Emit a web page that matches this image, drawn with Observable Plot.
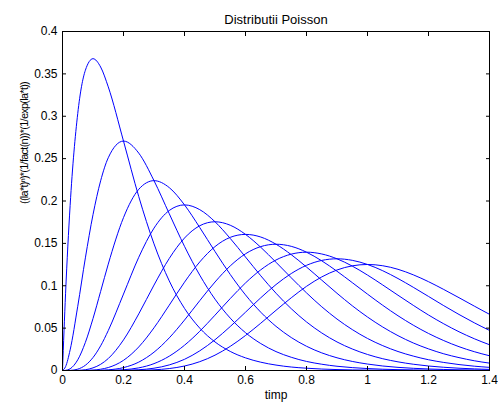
<!DOCTYPE html>
<html>
<head>
<meta charset="utf-8">
<script src="https://cdn.jsdelivr.net/npm/d3@7"></script>
<script src="https://cdn.jsdelivr.net/npm/@observablehq/plot@0.6"></script>
<style>
  html, body { margin: 0; padding: 0; background: #fff; }
  svg { display: block; }
</style>
</head>
<body>
<div id="chart"></div>
<script>
const title = "Distributii Poisson";
const xLabel = "timp";
const yLabel = "((la*t)\u207F)*(1/fact(n))*(1/exp(la*t))";

const xTicks = [0, 0.2, 0.4, 0.6, 0.8, 1, 1.2, 1.4];
const yTicks = [0, 0.05, 0.1, 0.15, 0.2, 0.25, 0.3, 0.35, 0.4];

const timp = [0, 0.01, 0.025, 0.05, 0.075, 0.1, 0.125, 0.15, 0.2, 0.25, 0.3, 0.35, 0.4, 0.45, 0.5, 0.55, 0.6, 0.65, 0.7, 0.75, 0.8, 0.85, 0.9, 0.95, 1.0, 1.05, 1.1, 1.15, 1.2, 1.25, 1.3, 1.35, 1.4];

const n1 = [0, 0.0905, 0.1947, 0.3033, 0.3543, 0.3679, 0.3581, 0.3347, 0.2707, 0.2052, 0.1494, 0.1057, 0.0733, 0.0500, 0.0337, 0.0225, 0.0149, 0.0098, 0.0064, 0.0041, 0.0027, 0.0017, 0.0011, 0.0007, 0.0005, 0.0003, 0.0002, 0.0001, 0.0001, 0, 0, 0, 0];
const n2 = [0, 0.0045, 0.0243, 0.0758, 0.1329, 0.1839, 0.2238, 0.2510, 0.2707, 0.2565, 0.2240, 0.1850, 0.1465, 0.1125, 0.0842, 0.0618, 0.0446, 0.0318, 0.0223, 0.0156, 0.0107, 0.0074, 0.0050, 0.0034, 0.0023, 0.0015, 0.0010, 0.0007, 0.0004, 0.0003, 0.0002, 0.0001, 0.0001];
const n3 = [0, 0.0002, 0.0020, 0.0126, 0.0332, 0.0613, 0.0933, 0.1255, 0.1804, 0.2138, 0.2240, 0.2158, 0.1954, 0.1687, 0.1404, 0.1133, 0.0892, 0.0688, 0.0521, 0.0389, 0.0286, 0.0208, 0.0150, 0.0107, 0.0076, 0.0053, 0.0037, 0.0026, 0.0018, 0.0012, 0.0008, 0.0006, 0.0004];
const n4 = [0, 0, 0.0001, 0.0016, 0.0062, 0.0153, 0.0291, 0.0471, 0.0902, 0.1336, 0.1680, 0.1888, 0.1954, 0.1898, 0.1755, 0.1558, 0.1339, 0.1118, 0.0912, 0.0729, 0.0573, 0.0443, 0.0337, 0.0254, 0.0189, 0.0139, 0.0102, 0.0074, 0.0053, 0.0038, 0.0027, 0.0019, 0.0013];
const n5 = [0, 0, 0, 0.0002, 0.0009, 0.0031, 0.0073, 0.0141, 0.0361, 0.0668, 0.1008, 0.1322, 0.1563, 0.1708, 0.1755, 0.1714, 0.1606, 0.1454, 0.1277, 0.1094, 0.0916, 0.0752, 0.0607, 0.0483, 0.0378, 0.0293, 0.0224, 0.0170, 0.0127, 0.0095, 0.0070, 0.0051, 0.0037];
const n6 = [0, 0, 0, 0, 0.0001, 0.0005, 0.0015, 0.0035, 0.0120, 0.0278, 0.0504, 0.0771, 0.1042, 0.1281, 0.1462, 0.1571, 0.1606, 0.1575, 0.1490, 0.1367, 0.1221, 0.1066, 0.0911, 0.0764, 0.0631, 0.0513, 0.0411, 0.0325, 0.0255, 0.0197, 0.0152, 0.0115, 0.0087];
const n7 = [0, 0, 0, 0, 0, 0.0001, 0.0003, 0.0008, 0.0034, 0.0099, 0.0216, 0.0385, 0.0595, 0.0824, 0.1044, 0.1234, 0.1377, 0.1462, 0.1490, 0.1465, 0.1396, 0.1294, 0.1171, 0.1037, 0.0901, 0.0769, 0.0646, 0.0535, 0.0437, 0.0353, 0.0281, 0.0222, 0.0174];
const n8 = [0, 0, 0, 0, 0, 0, 0, 0.0001, 0.0009, 0.0031, 0.0081, 0.0169, 0.0298, 0.0463, 0.0653, 0.0849, 0.1033, 0.1188, 0.1304, 0.1373, 0.1396, 0.1375, 0.1318, 0.1232, 0.1126, 0.1009, 0.0888, 0.0769, 0.0655, 0.0551, 0.0457, 0.0375, 0.0304];
const n9 = [0, 0, 0, 0, 0, 0, 0, 0, 0.0002, 0.0009, 0.0027, 0.0066, 0.0132, 0.0232, 0.0363, 0.0519, 0.0688, 0.0858, 0.1014, 0.1144, 0.1241, 0.1299, 0.1318, 0.1300, 0.1251, 0.1177, 0.1085, 0.0982, 0.0874, 0.0765, 0.0661, 0.0563, 0.0473];
const n10 = [0, 0, 0, 0, 0, 0, 0, 0, 0, 0.0002, 0.0008, 0.0023, 0.0053, 0.0104, 0.0181, 0.0285, 0.0413, 0.0558, 0.0710, 0.0858, 0.0993, 0.1104, 0.1186, 0.1235, 0.1251, 0.1236, 0.1194, 0.1129, 0.1048, 0.0956, 0.0859, 0.0760, 0.0663];

const series = [n1, n2, n3, n4, n5, n6, n7, n8, n9, n10];
const data = series.flatMap((vals, i) => vals.map((v, j) => ({t: timp[j], v, n: i + 1})));

const fmt = d3.format("~g");
const font = "'Liberation Sans', Arial, Helvetica, sans-serif";

const chart = Plot.plot({
  width: 498,
  height: 407,
  marginLeft: 62,
  marginRight: 9,
  marginTop: 31,
  marginBottom: 37,
  style: {fontFamily: font, fontSize: "12px", color: "#000", background: "#fff"},
  x: {domain: [0, 1.4]},
  y: {domain: [0, 0.4]},
  marks: [
    Plot.line(data, {x: "t", y: "v", z: "n", stroke: "#0000ff", strokeWidth: 1, curve: "monotone-x"}),
    Plot.frame({stroke: "#000", strokeWidth: 1}),
    Plot.axisX({ticks: xTicks, tickFormat: fmt, tickSize: -4, tickPadding: 9, label: null, anchor: "bottom"}),
    Plot.axisX({ticks: xTicks, tickFormat: () => "", tickSize: -4, label: null, anchor: "top"}),
    Plot.axisY({ticks: yTicks, tickFormat: fmt, tickSize: -4, tickPadding: 9, label: null, anchor: "left"}),
    Plot.axisY({ticks: yTicks, tickFormat: () => "", tickSize: -4, label: null, anchor: "right"}),
    Plot.text([title], {frameAnchor: "top", dy: -17, fontSize: 13, text: d => d}),
    Plot.text([xLabel], {frameAnchor: "bottom", dy: 28, fontSize: 12, text: d => d}),
    Plot.text([yLabel], {frameAnchor: "left", dx: -38, dy: 3, rotate: -90, fontSize: 11, text: d => d})
  ]
});
d3.select(chart).selectAll("text")
  .filter(function() { return this.textContent === yLabel; })
  .attr("letter-spacing", "-0.75px");
document.getElementById("chart").appendChild(chart);
</script>
</body>
</html>
